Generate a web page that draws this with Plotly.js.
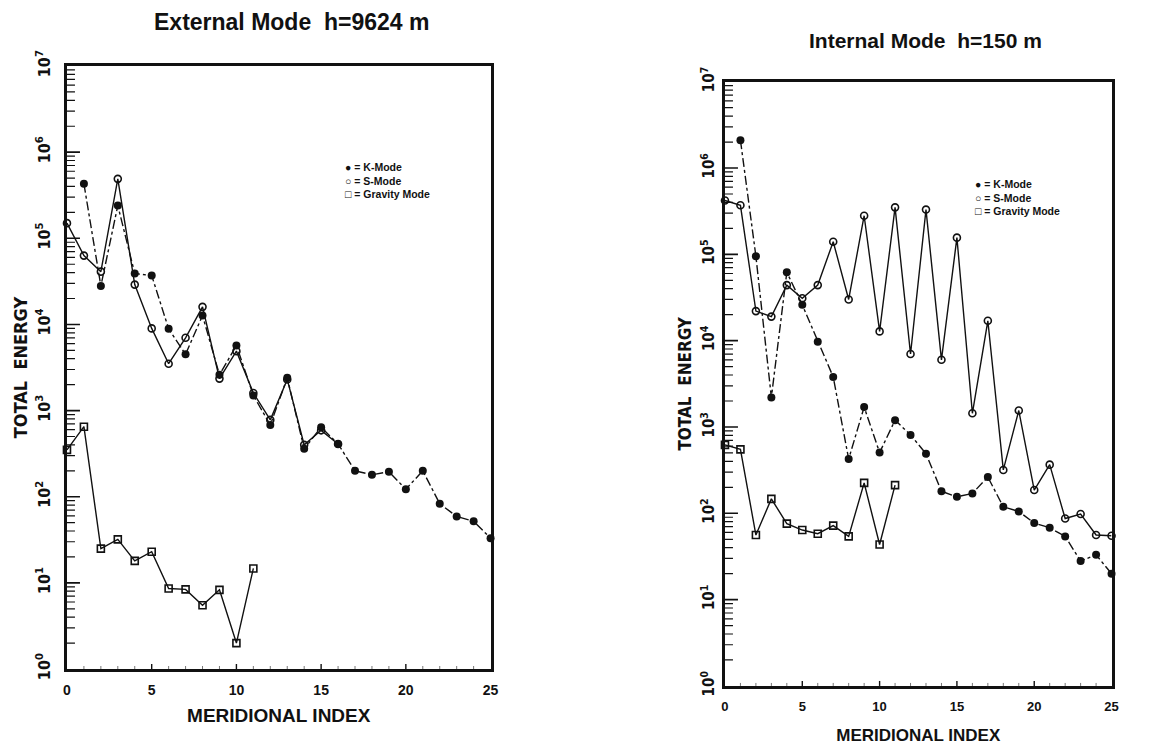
<!DOCTYPE html>
<html>
<head>
<meta charset="utf-8">
<script src="https://cdn.plot.ly/plotly-3.0.1.min.js"></script>
<style>html,body{margin:0;padding:0;background:#fff;}#chart{width:1175px;height:746px;}</style>
</head>
<body>
<div id="chart"></div>
<script>
// ---------- External mode (left panel) ----------
const extKx = [1,2,3,4,5,6,7,8,9,10,11,12,13,14,15,16,17,18,19,20,21,22,23,24,25];
const extK  = [4.3e5,2.8e4,2.4e5,3.9e4,3.7e4,8.9e3,4.5e3,1.27e4,2.6e3,5.7e3,1.5e3,680,2.4e3,360,640,410,200,180,195,122,200,83,59,52,33];
const extSx = [0,1,2,3,4,5,6,7,8,9,10,11,12,13,14,15,16];
const extS  = [1.5e5,6.3e4,4.1e4,4.9e5,2.9e4,9.0e3,3.5e3,7.0e3,1.6e4,2.35e3,4.9e3,1.6e3,780,2.3e3,400,590,410];
const extGx = [0,1,2,3,4,5,6,7,8,9,10,11];
const extG  = [350,650,25,32,18,23,8.6,8.4,5.5,8.3,2.0,14.7];

// ---------- Internal mode (right panel) ----------
const intKx = [1,2,3,4,5,6,7,8,9,10,11,12,13,14,15,16,17,18,19,20,21,22,23,24,25];
const intK  = [2.1e6,9.5e4,2.2e3,6.2e4,2.6e4,9.7e3,3.8e3,425,1.7e3,505,1.2e3,810,490,180,155,170,263,119,105,77,68,54,28,33,20];
const intSx = [0,1,2,3,4,5,6,7,8,9,10,11,12,13,14,15,16,17,18,19,20,21,22,23,24,25];
const intS  = [4.2e5,3.7e5,2.2e4,1.9e4,4.4e4,3.1e4,4.4e4,1.4e5,3.0e4,2.8e5,1.28e4,3.5e5,7.0e3,3.3e5,6.0e3,1.56e5,1.44e3,1.7e4,318,1.55e3,186,366,87,98,56,55];
const intGx = [0,1,2,3,4,5,6,7,8,9,10,11];
const intG  = [620,550,56,147,76,64,58,72,54,225,43.5,212];

// ---------- Text ----------
const titles = ['External Mode  h=9624 m', 'Internal Mode  h=150 m'];
const xTitle = 'MERIDIONAL INDEX';
const yTitle = 'TOTAL  ENERGY';
const modeNames = ['K-Mode', 'S-Mode', 'Gravity Mode'];
const yTickVals = [1,10,100,1e3,1e4,1e5,1e6,1e7];
const yTickText = ['10<sup>0</sup>','10<sup>1</sup>','10<sup>2</sup>','10<sup>3</sup>','10<sup>4</sup>','10<sup>5</sup>','10<sup>6</sup>','10<sup>7</sup>'];
const xTickVals = [0,5,10,15,20,25];

const FONT = 'Liberation Sans, Arial, sans-serif';
const COND = 'DejaVu Sans Condensed, Liberation Sans Narrow, Liberation Sans, Arial, sans-serif';
const ink = '#111';

// tick positions for the inside tick marks
const minorVals = [];
for (let d = 0; d < 7; d++) for (let m = 2; m <= 9; m++) minorVals.push(m * Math.pow(10, d));
const xMinorVals = [];
for (let i = 1; i < 25; i++) if (i % 5 !== 0) xMinorVals.push(i);

// panel geometry (paper fractions) and scale factors
const W = 1175, H = 746;
const domXL = [0.0570, 0.4175], domYL = [0.1032, 0.9115];
const domXR = [0.6170, 0.9460], domYR = [0.0805, 0.8905];
const pxPerUnit = d => (d[1] - d[0]) * W / 25;      // x axis range 0..25
const pxPerDecade = d => (d[1] - d[0]) * H / 7;     // y axis range 10^0..10^7

function traceK(x, y, xa, ya) {
  return {x, y, xaxis: xa, yaxis: ya, name: modeNames[0], mode: 'lines+markers', cliponaxis: false,
    line: {color: ink, width: 1.4, dash: 'dashdot'},
    marker: {symbol: 'circle', size: 8, color: ink}};
}
function traceS(x, y, xa, ya) {
  return {x, y, xaxis: xa, yaxis: ya, name: modeNames[1], mode: 'lines+markers', cliponaxis: false,
    line: {color: ink, width: 1.4},
    marker: {symbol: 'circle-open', size: 7, color: ink, line: {width: 1.6}}};
}
function traceG(x, y, xa, ya) {
  return {x, y, xaxis: xa, yaxis: ya, name: modeNames[2], mode: 'lines+markers', cliponaxis: false,
    line: {color: ink, width: 1.4},
    marker: {symbol: 'square-open', size: 7, color: ink, line: {width: 1.6}}};
}
// inside tick marks as short line segments placed through the axes' scales
function yTicks(vals, lenPx, w, xa, ya, dom) {
  const len = lenPx / pxPerUnit(dom);
  const x = [], y = [];
  vals.forEach(v => { x.push(0, len, null); y.push(v, v, null); });
  return {x, y, xaxis: xa, yaxis: ya, mode: 'lines', cliponaxis: false, connectgaps: false,
    hoverinfo: 'skip', showlegend: false, line: {color: ink, width: w}};
}
function xTicks(vals, lenPx, w, c, xa, ya, dom) {
  const top = Math.pow(10, lenPx / pxPerDecade(dom));
  const x = [], y = [];
  vals.forEach(v => { x.push(v, v, null); y.push(1, top, null); });
  return {x, y, xaxis: xa, yaxis: ya, mode: 'lines', cliponaxis: false, connectgaps: false,
    hoverinfo: 'skip', showlegend: false, line: {color: c, width: w}};
}

const data = [
  yTicks(yTickVals.slice(1, -1), 13, 1.6, 'x', 'y', domXL),
  yTicks(minorVals, 8, 1.2, 'x', 'y', domXL),
  xTicks(xTickVals.slice(1, -1), 5, 1.4, ink, 'x', 'y', domYL),
  xTicks(xMinorVals, 3, 1, '#777', 'x', 'y', domYL),
  yTicks(yTickVals.slice(1, -1), 13, 1.6, 'x2', 'y2', domXR),
  yTicks(minorVals, 8, 1.2, 'x2', 'y2', domXR),
  xTicks(xTickVals.slice(1, -1), 5, 1.4, ink, 'x2', 'y2', domYR),
  xTicks(xMinorVals, 3, 1, '#777', 'x2', 'y2', domYR),
  traceG(extGx, extG, 'x', 'y'),
  traceS(extSx, extS, 'x', 'y'),
  traceK(extKx, extK, 'x', 'y'),
  traceG(intGx, intG, 'x2', 'y2'),
  traceS(intSx, intS, 'x2', 'y2'),
  traceK(intKx, intK, 'x2', 'y2')
];

function xAxis(domain, anchor, size, tsize, tstand) {
  return {domain, anchor, range: [0, 25], showgrid: false, zeroline: false,
    showline: true, linecolor: ink, linewidth: 3, mirror: true,
    ticks: '', tickvals: xTickVals, ticklabelstandoff: 6,
    tickfont: {family: FONT, size: tsize, color: ink, weight: 'bold'},
    title: {text: xTitle, standoff: tstand, font: {family: FONT, size: size, color: ink, weight: 'bold'}}};
}
function yAxis(domain, anchor, size, tsize, lstand, tstand) {
  return {domain, anchor, type: 'log', range: [0, 7], showgrid: false, zeroline: false,
    showline: true, linecolor: ink, linewidth: 3, mirror: true,
    ticks: '', tickvals: yTickVals, ticktext: yTickText, tickangle: -90, ticklabelstandoff: lstand,
    tickfont: {family: COND, size: tsize, color: ink, weight: 'bold'},
    title: {text: yTitle, standoff: tstand, font: {family: COND, size: size, color: ink, weight: 'bold'}}};
}

const legendText = '\u25CF = ' + modeNames[0] + '<br>\u25CB = ' + modeNames[1] + '<br>\u25A1 = ' + modeNames[2];

const layout = {
  width: W, height: H,
  margin: {l: 0, r: 0, t: 0, b: 0},
  paper_bgcolor: '#fff', plot_bgcolor: '#fff',
  showlegend: false,
  font: {family: FONT, color: ink},
  xaxis: xAxis(domXL, 'y', 19, 14, 12),
  yaxis: yAxis(domYL, 'x', 18, 16, 8, 1),
  xaxis2: xAxis(domXR, 'y2', 17, 13, 17),
  yaxis2: yAxis(domYR, 'x2', 17, 15, 2, 2),
  annotations: [
    {xref: 'paper', yref: 'paper', x: 291/W, y: 1 - 22/H, xanchor: 'center', yanchor: 'middle',
     text: titles[0], showarrow: false, font: {family: FONT, size: 23, color: ink, weight: 'bold'}},
    {xref: 'paper', yref: 'paper', x: 925/W, y: 1 - 40/H, xanchor: 'center', yanchor: 'middle',
     text: titles[1], showarrow: false, font: {family: FONT, size: 21, color: ink, weight: 'bold'}},
    {xref: 'paper', yref: 'paper', x: 343/W, y: 1 - 159/H, xanchor: 'left', yanchor: 'top', align: 'left',
     text: legendText, showarrow: false, font: {family: FONT, size: 10.5, color: ink, weight: 'bold'}},
    {xref: 'paper', yref: 'paper', x: 973/W, y: 1 - 176/H, xanchor: 'left', yanchor: 'top', align: 'left',
     text: legendText, showarrow: false, font: {family: FONT, size: 10.5, color: ink, weight: 'bold'}}
  ]
};

Plotly.newPlot('chart', data, layout, {displayModeBar: false});
</script>
</body>
</html>
